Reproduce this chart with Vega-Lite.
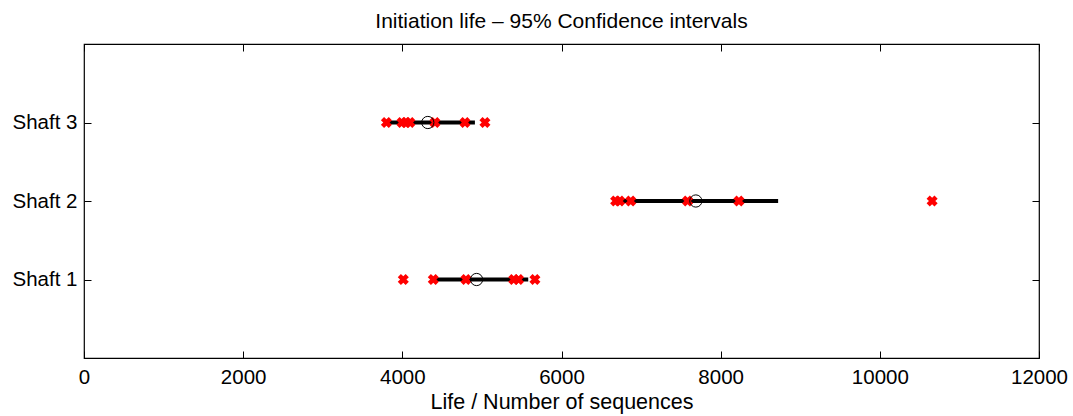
{
  "$schema": "https://vega.github.io/schema/vega-lite/v6.json",
  "width": 955,
  "height": 314,
  "autosize": "none",
  "padding": {"left": 84, "top": 44, "right": 34, "bottom": 58},
  "title": {"text": "Initiation life – 95% Confidence intervals", "font": "Liberation Sans", "fontSize": 21, "fontWeight": "normal", "color": "black", "offset": 12},
  "config": {
    "view": {"stroke": "black", "strokeWidth": 1.2},
    "font": "Liberation Sans",
    "axis": {"domain": false, "grid": false, "tickColor": "black", "labelColor": "black", "titleColor": "black", "labelFont": "Liberation Sans", "titleFont": "Liberation Sans", "labelFontSize": 20.5, "titleFontSize": 21.5, "titleFontWeight": "normal", "tickSize": -7, "tickWidth": 1}
  },
  "datasets": {
    "ci": [
      {"shaft": 1, "lo": 4389, "hi": 5582, "mean": 4933},
      {"shaft": 2, "lo": 6671, "hi": 8722, "mean": 7688},
      {"shaft": 3, "lo": 3803, "hi": 4912, "mean": 4320}
    ],
    "pts": [
      {"shaft": 1, "life": 4012},
      {"shaft": 1, "life": 4389},
      {"shaft": 1, "life": 4799},
      {"shaft": 1, "life": 5400},
      {"shaft": 1, "life": 5460},
      {"shaft": 1, "life": 5666},
      {"shaft": 2, "life": 6680},
      {"shaft": 2, "life": 6730},
      {"shaft": 2, "life": 6870},
      {"shaft": 2, "life": 7584},
      {"shaft": 2, "life": 8229},
      {"shaft": 2, "life": 10657},
      {"shaft": 3, "life": 3800},
      {"shaft": 3, "life": 3995},
      {"shaft": 3, "life": 4045},
      {"shaft": 3, "life": 4095},
      {"shaft": 3, "life": 4410},
      {"shaft": 3, "life": 4787},
      {"shaft": 3, "life": 5038}
    ]
  },
  "layer": [
    {
      "data": {"name": "ci"},
      "mark": {"type": "rule", "color": "black", "strokeWidth": 4},
      "encoding": {
        "x": {"field": "lo", "type": "quantitative", "scale": {"domain": [0, 12000], "nice": false}, "title": "Life / Number of sequences", "axis": {"values": [0, 2000, 4000, 6000, 8000, 10000, 12000], "labelPadding": 16, "titlePadding": 4, "format": "d", "labelFlush": false}},
        "x2": {"field": "hi"},
        "y": {"field": "shaft", "type": "quantitative", "scale": {"domain": [0, 4], "nice": false}, "title": null, "axis": {"values": [1, 2, 3], "labelExpr": "'Shaft ' + datum.value", "labelPadding": 14}}
      }
    },
    {
      "data": {"name": "pts"},
      "mark": {"type": "point", "shape": "cross", "angle": 45, "filled": true, "color": "red", "size": 125, "opacity": 1},
      "encoding": {
        "x": {"field": "life", "type": "quantitative", "axis": null},
        "y": {"field": "shaft", "type": "quantitative", "axis": null}
      }
    },
    {
      "data": {"name": "ci"},
      "mark": {"type": "point", "shape": "circle", "filled": false, "color": "black", "size": 150, "strokeWidth": 1, "opacity": 1},
      "encoding": {
        "x": {"field": "mean", "type": "quantitative", "axis": null},
        "y": {"field": "shaft", "type": "quantitative", "axis": null}
      }
    },
    {
      "data": {"name": "ci"},
      "mark": {"type": "point", "opacity": 0},
      "encoding": {
        "x": {"field": "mean", "type": "quantitative", "axis": {"orient": "top", "values": [0, 2000, 4000, 6000, 8000, 10000, 12000], "labels": false, "title": null}},
        "y": {"field": "shaft", "type": "quantitative", "axis": {"orient": "right", "values": [1, 2, 3], "labels": false, "title": null}}
      }
    }
  ],
  "resolve": {"axis": {"x": "independent", "y": "independent"}}
}
